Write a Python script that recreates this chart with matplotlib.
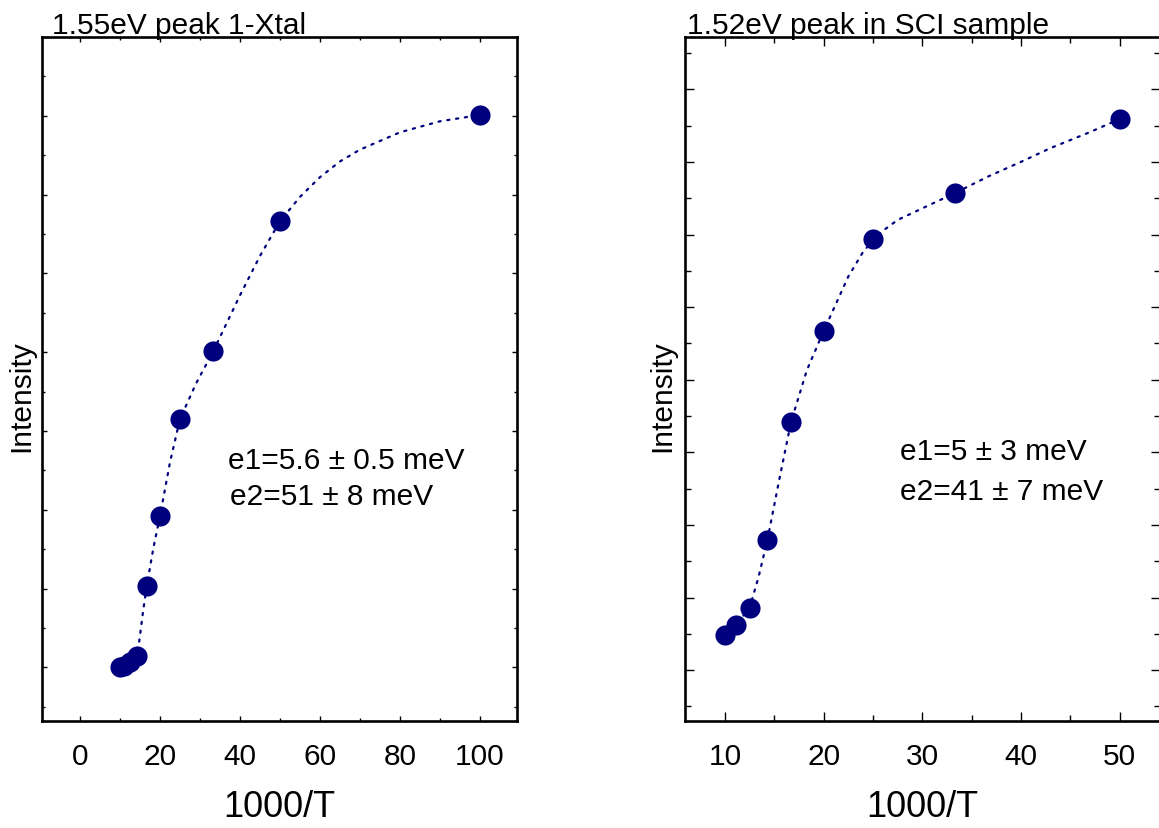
import matplotlib
matplotlib.use("Agg")
import matplotlib.pyplot as plt
from matplotlib.ticker import MultipleLocator, NullFormatter

# left panel: 1.55eV peak, single crystal
xtal_x = [10, 11.1, 12.5, 14.3, 16.7, 20, 25, 33.3, 50, 100]
xtal_y = [0.0, 0.02, 0.07, 0.14, 1.03, 1.92, 3.15, 4.01, 5.66, 7.01]
# dotted fit curve
xtal_fit_x = [10, 11.1, 12.5, 13.4, 14.3, 15.0, 15.8, 16.7, 18.3, 20, 22.5, 25,
              29, 33.3, 40, 45, 50, 55, 60, 65, 70, 80, 90, 100]
xtal_fit_y = [0.0, 0.02, 0.06, 0.10, 0.14, 0.40, 0.72, 1.03, 1.50, 1.92, 2.60, 3.15,
              3.60, 4.01, 4.72, 5.22, 5.66, 5.97, 6.22, 6.42, 6.57, 6.79, 6.93, 7.01]

# right panel: 1.52eV peak, SCI sample
sci_x = [10, 11.1, 12.5, 14.3, 16.7, 20, 25, 33.3, 50]
sci_y = [0.49, 0.62, 0.86, 1.79, 3.42, 4.67, 5.94, 6.57, 7.59]
sci_fit_x = [10, 11.1, 12.5, 13.4, 14.3, 15.5, 16.7, 18.3, 20, 22.5, 24, 25, 26,
             27.5, 30, 33.3, 36.7, 40, 43, 47, 50]
sci_fit_y = [0.49, 0.62, 0.86, 1.28, 1.79, 2.62, 3.42, 4.13, 4.67, 5.42, 5.76, 5.92,
             6.05, 6.20, 6.36, 6.57, 6.80, 7.00, 7.19, 7.41, 7.59]

NAVY = "#00007f"
FONT = "Liberation Sans"
FS = 21.5

plt.rcParams["font.family"] = [FONT, "DejaVu Sans"]

fig = plt.figure(figsize=(11.59, 8.29), dpi=100)
W, H = 1159.0, 829.0


def make_axes(left_px, right_px, top_px=38, bottom_px=722):
    return fig.add_axes([left_px / W, 1 - bottom_px / H,
                         (right_px - left_px) / W, (bottom_px - top_px) / H])


def style(ax, major_len, minor_len):
    for s in ax.spines.values():
        s.set_linewidth(1.9)
    ax.tick_params(which="both", direction="in", top=True, right=True,
                   width=1.0, labelsize=FS, pad=15)
    ax.tick_params(which="major", length=major_len)
    ax.tick_params(which="minor", length=minor_len)
    ax.yaxis.set_major_locator(MultipleLocator(1))
    ax.yaxis.set_minor_locator(MultipleLocator(0.5))
    ax.yaxis.set_major_formatter(NullFormatter())
    ax.set_xlabel("1000/T", fontsize=26, labelpad=14)


def draw(ax, fx, fy, x, y):
    ax.plot(fx, fy, color=NAVY, lw=1.6, linestyle=(0, (1, 3)),
            dash_capstyle="round")
    ax.plot(x, y, "o", color=NAVY, markersize=14.5, markeredgewidth=0)


# left panel
ax1 = make_axes(42, 517)
draw(ax1, xtal_fit_x, xtal_fit_y, xtal_x, xtal_y)
ax1.set_xlim(-9.5, 109.3)
ax1.set_ylim(-0.68, 8.0)
ax1.xaxis.set_major_locator(MultipleLocator(20))
ax1.xaxis.set_minor_locator(MultipleLocator(10))
style(ax1, 3.5, 2.0)
ax1.text(0.021, 1.006, "1.55eV peak 1-Xtal", transform=ax1.transAxes,
         fontsize=FS, ha="left", va="baseline")
ax1.text(-0.044, 0.477, "Intensity", transform=ax1.transAxes, fontsize=FS,
         rotation=90, ha="center", va="center")
ax1.text(0.392, 0.382, "e1=5.6 \u00b1 0.5 meV", transform=ax1.transAxes,
         fontsize=FS, ha="left", va="center")
ax1.text(0.396, 0.329, "e2=51 \u00b1 8 meV", transform=ax1.transAxes,
         fontsize=FS, ha="left", va="center")

# right panel (right edge runs off the canvas)
ax2 = make_axes(685, 1160)
draw(ax2, sci_fit_x, sci_fit_y, sci_x, sci_y)
ax2.set_xlim(5.95, 54.1)
ax2.set_ylim(-0.70, 8.72)
ax2.xaxis.set_major_locator(MultipleLocator(10))
ax2.xaxis.set_minor_locator(MultipleLocator(5))
style(ax2, 6.5, 4.0)
ax2.text(0.004, 1.006, "1.52eV peak in SCI sample", transform=ax2.transAxes,
         fontsize=FS, ha="left", va="baseline")
ax2.text(-0.048, 0.477, "Intensity", transform=ax2.transAxes, fontsize=FS,
         rotation=90, ha="center", va="center")
ax2.text(0.453, 0.395, "e1=5 \u00b1 3 meV", transform=ax2.transAxes,
         fontsize=FS, ha="left", va="center")
ax2.text(0.453, 0.336, "e2=41 \u00b1 7 meV", transform=ax2.transAxes,
         fontsize=FS, ha="left", va="center")

fig.savefig("out.png", dpi=100)
